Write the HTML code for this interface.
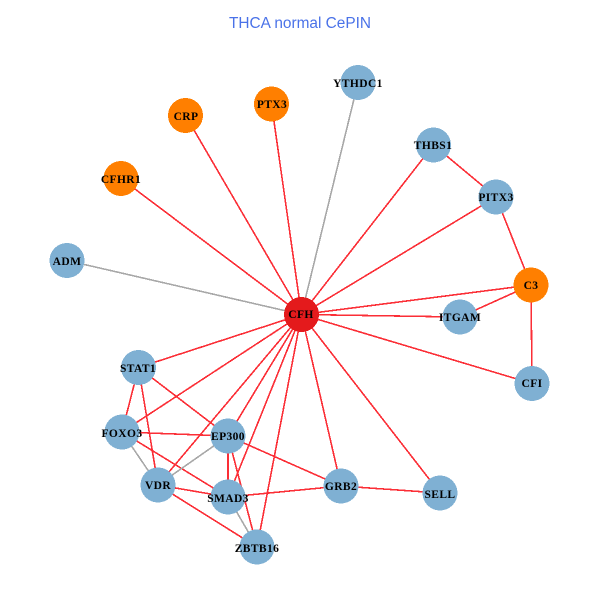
<!DOCTYPE html>
<html><head><meta charset="utf-8"><style>
html,body{margin:0;padding:0;background:#fff;width:600px;height:600px;overflow:hidden}
svg{display:block}
.t{font:15.4px "Liberation Sans",sans-serif;fill:#4a72e8;text-anchor:middle}
.n{font:bold 11.5px "Liberation Serif",serif;fill:#000;text-anchor:middle;letter-spacing:.4px}
line{shape-rendering:crispEdges;stroke-width:1.6}
circle{shape-rendering:crispEdges}
.r{stroke:#fb2e36}
.g{stroke:#a8a8a8}
.b{fill:#7fb0d3}.o{fill:#ff7f00}.c{fill:#e41a1c}
</style></head><body>
<svg width="600" height="600" viewBox="0 0 600 600" xmlns="http://www.w3.org/2000/svg">
<text class="t" x="300" y="28">THCA normal CePIN</text>
<g>
<line class="g" x1="301.5" y1="314.5" x2="358" y2="82.5"/>
<line class="g" x1="301.5" y1="314.5" x2="67" y2="260.5"/>
<line class="r" x1="301.5" y1="314.5" x2="271.5" y2="104"/>
<line class="r" x1="301.5" y1="314.5" x2="185.5" y2="115.5"/>
<line class="r" x1="301.5" y1="314.5" x2="121" y2="178.5"/>
<line class="r" x1="301.5" y1="314.5" x2="433.5" y2="145"/>
<line class="r" x1="301.5" y1="314.5" x2="496" y2="197"/>
<line class="r" x1="301.5" y1="314.5" x2="531" y2="285"/>
<line class="r" x1="301.5" y1="314.5" x2="460" y2="317"/>
<line class="r" x1="301.5" y1="314.5" x2="532" y2="383.5"/>
<line class="r" x1="301.5" y1="314.5" x2="440" y2="493"/>
<line class="r" x1="301.5" y1="314.5" x2="341" y2="486"/>
<line class="r" x1="301.5" y1="314.5" x2="257" y2="547"/>
<line class="r" x1="301.5" y1="314.5" x2="228" y2="497"/>
<line class="r" x1="301.5" y1="314.5" x2="228" y2="436"/>
<line class="r" x1="301.5" y1="314.5" x2="158" y2="485"/>
<line class="r" x1="301.5" y1="314.5" x2="122" y2="432"/>
<line class="r" x1="301.5" y1="314.5" x2="138.5" y2="367.5"/>
<line class="r" x1="433.5" y1="145" x2="496" y2="197"/>
<line class="r" x1="496" y1="197" x2="531" y2="285"/>
<line class="r" x1="531" y1="285" x2="460" y2="317"/>
<line class="r" x1="531" y1="285" x2="532" y2="383.5"/>
<line class="r" x1="138.5" y1="367.5" x2="122" y2="432"/>
<line class="r" x1="138.5" y1="367.5" x2="158" y2="485"/>
<line class="r" x1="138.5" y1="367.5" x2="228" y2="436"/>
<line class="r" x1="122" y1="432" x2="228" y2="436"/>
<line class="g" x1="122" y1="432" x2="158" y2="485"/>
<line class="r" x1="122" y1="432" x2="228" y2="497"/>
<line class="g" x1="158" y1="485" x2="228" y2="436"/>
<line class="r" x1="158" y1="485" x2="228" y2="497"/>
<line class="r" x1="158" y1="485" x2="257" y2="547"/>
<line class="r" x1="228" y1="436" x2="228" y2="497"/>
<line class="r" x1="228" y1="436" x2="257" y2="547"/>
<line class="r" x1="228" y1="436" x2="341" y2="486"/>
<line class="r" x1="228" y1="497" x2="341" y2="486"/>
<line class="g" x1="228" y1="497" x2="257" y2="547"/>
<line class="r" x1="341" y1="486" x2="440" y2="493"/>
</g>
<g>
<circle class="c" cx="301.5" cy="314.5" r="17.5"/>
<circle class="o" cx="531" cy="285" r="17.5"/>
<circle class="b" cx="460" cy="317" r="17.5"/>
<circle class="b" cx="532" cy="383.5" r="17.5"/>
<circle class="b" cx="496" cy="197" r="17.5"/>
<circle class="b" cx="433.5" cy="145" r="17.5"/>
<circle class="b" cx="358" cy="82.5" r="17.5"/>
<circle class="o" cx="271.5" cy="104" r="17.5"/>
<circle class="o" cx="185.5" cy="115.5" r="17.5"/>
<circle class="o" cx="121" cy="178.5" r="17.5"/>
<circle class="b" cx="67" cy="260.5" r="17.5"/>
<circle class="b" cx="138.5" cy="367.5" r="17.5"/>
<circle class="b" cx="122" cy="432" r="17.5"/>
<circle class="b" cx="228" cy="436" r="17.5"/>
<circle class="b" cx="158" cy="485" r="17.5"/>
<circle class="b" cx="228" cy="497" r="17.5"/>
<circle class="b" cx="257" cy="547" r="17.5"/>
<circle class="b" cx="341" cy="486" r="17.5"/>
<circle class="b" cx="440" cy="493" r="17.5"/>
</g>
<g>
<text class="n" x="301" y="318">CFH</text>
<text class="n" x="531" y="289">C3</text>
<text class="n" x="460" y="321">ITGAM</text>
<text class="n" x="532" y="387">CFI</text>
<text class="n" x="496" y="201">PITX3</text>
<text class="n" x="433" y="149">THBS1</text>
<text class="n" x="358" y="87">YTHDC1</text>
<text class="n" x="272" y="108">PTX3</text>
<text class="n" x="186" y="120">CRP</text>
<text class="n" x="121" y="183">CFHR1</text>
<text class="n" x="67" y="265">ADM</text>
<text class="n" x="138" y="372">STAT1</text>
<text class="n" x="122" y="437">FOXO3</text>
<text class="n" x="228" y="440">EP300</text>
<text class="n" x="158" y="489">VDR</text>
<text class="n" x="228" y="502">SMAD3</text>
<text class="n" x="257" y="552">ZBTB16</text>
<text class="n" x="341" y="490">GRB2</text>
<text class="n" x="440" y="498">SELL</text>
</g>
</svg>
</body></html>
